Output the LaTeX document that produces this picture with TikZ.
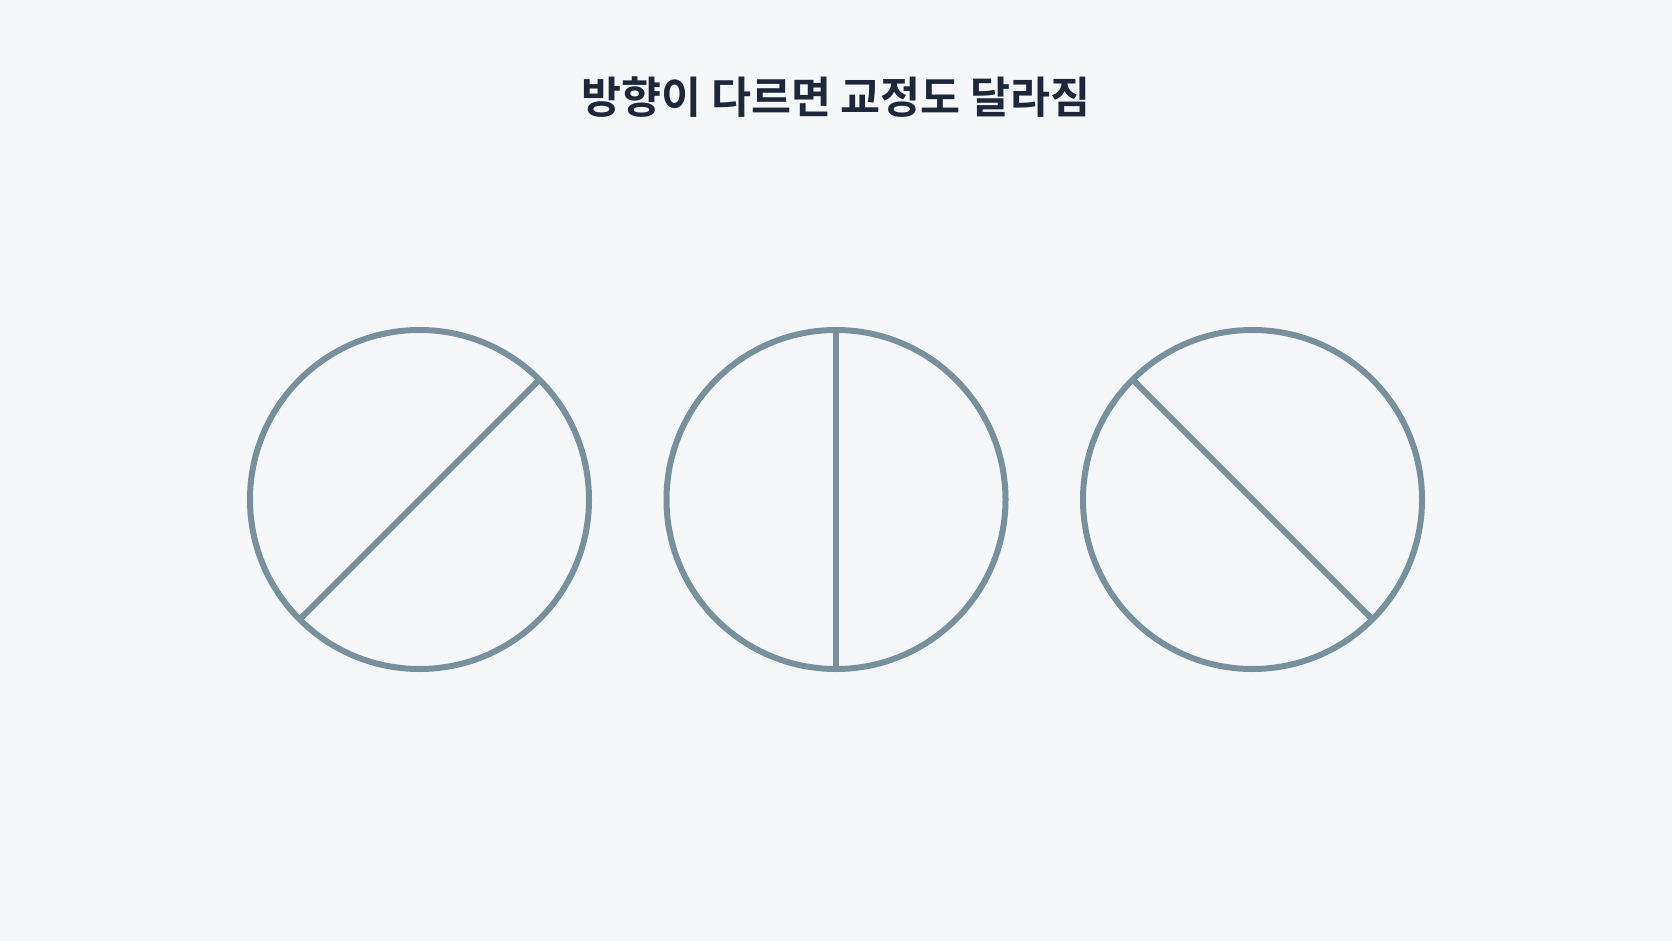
\documentclass[tikz,border=0pt]{standalone}
\usepackage{fontspec}
\newfontfamily\cjk{Noto Sans CJK KR Bold}
\usepackage{xcolor}
\definecolor{bgcol}{HTML}{F5F7F9}
\definecolor{rimcol}{HTML}{78909C}
\definecolor{titlecol}{HTML}{1C2839}

\begin{document}
\begin{tikzpicture}
			[x=1pt,y=-1pt,every node/.style={circle,draw=rimcol,line width=6pt,minimum size=339pt,inner sep=0pt,outer sep=0pt}, edge/.style={draw=rimcol,line width=6pt}]
			\fill[bgcol] (0,0) rectangle (1672,941);
			\useasboundingbox (0,0) rectangle (1672,941);
			
			\node[draw=none,rectangle,minimum size=0pt,text=titlecol,font=\cjk\fontsize{43.5}{48}\selectfont] (title) at (836,97) {방향이 다르면 교정도 달라짐};
			
			\node (c1) at (419.5,499.5)  {};
			\node (c2) at (836,499.5)  {};
			\node (c3) at (1252.5,499.5)  {};
			
			\draw[edge] (c1.225) to (c1.45);
			\draw[edge] (c2.90) to (c2.270);
			\draw[edge] (c3.135) to (c3.315);
			
			\end{tikzpicture}
\end{document}
